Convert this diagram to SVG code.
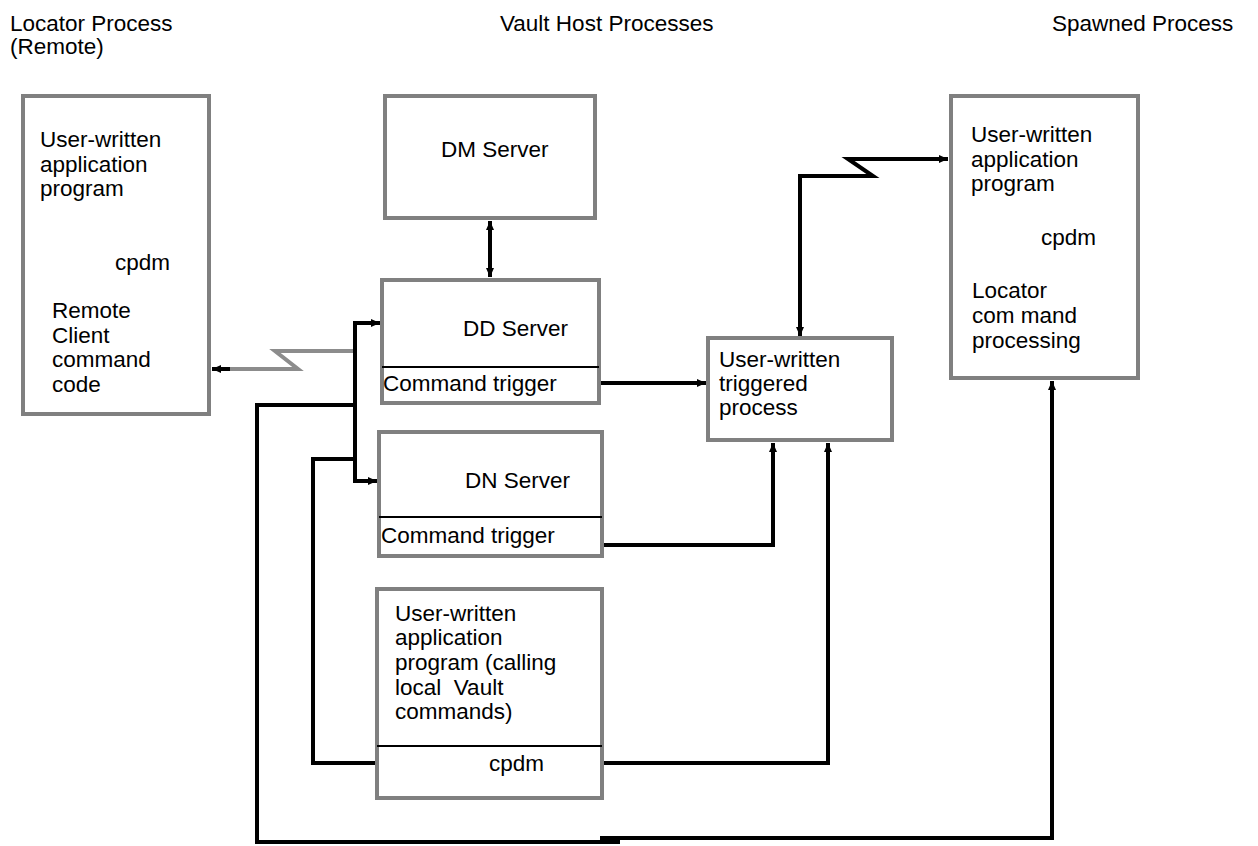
<svg xmlns="http://www.w3.org/2000/svg" width="1258" height="846" viewBox="0 0 1258 846">
<defs>
<style>
.box{fill:#fff;stroke:#808080;stroke-width:4}
.div{stroke:#000;stroke-width:2}
.t{font-family:"Liberation Sans",Arial,sans-serif;font-size:22.5px;fill:#000}
.c{fill:none;stroke:#000;stroke-width:4}
.g{fill:none;stroke:#8c8c8c;stroke-width:4}
</style>
<marker id="ah" markerUnits="userSpaceOnUse" markerWidth="10" markerHeight="8" refX="9" refY="4" orient="auto-start-reverse">
<path d="M0,0 L9,4 L0,8 z" fill="#000"/>
</marker>
</defs>
<rect width="1258" height="846" fill="#fff"/>
<g id="titles">
<text class="t" x="10" y="31">Locator Process</text>
<text class="t" x="10" y="54">(Remote)</text>
<text class="t" x="500" y="31">Vault Host Processes</text>
<text class="t" x="1052" y="31">Spawned Process</text>
</g>
<g id="connectors">
<line class="c" x1="490" y1="221" x2="490" y2="277" marker-start="url(#ah)" marker-end="url(#ah)"/>
<polyline class="g" points="355,351 275,351 298,369 222,369"/>
<line class="c" x1="230" y1="369" x2="212" y2="369" marker-end="url(#ah)"/>
<path class="c" d="M380,323 L355,323 L355,481 L377,481" marker-start="url(#ah)" marker-end="url(#ah)"/>
<path class="c" d="M355,405 L257,405 L257,842 L620,842"/>
<path class="c" d="M600,838 L1052,838 L1052,381" marker-end="url(#ah)"/>
<path class="c" d="M376,763 L313,763 L313,459 L355,459"/>
<path class="c" d="M602,763 L828,763 L828,443" marker-end="url(#ah)"/>
<path class="c" d="M602,545 L773,545 L773,443" marker-end="url(#ah)"/>
<path class="c" d="M599,383 L706,383" marker-end="url(#ah)"/>
<path class="c" d="M800,336 L800,176 L873,176 L848,159 L948,159" marker-start="url(#ah)" marker-end="url(#ah)"/>
</g>
<g id="locator">
<rect class="box" x="23" y="96" width="186" height="318"/>
<text class="t" x="40" y="147">User-written</text>
<text class="t" x="40" y="172">application</text>
<text class="t" x="40" y="196">program</text>
<text class="t" x="115" y="270">cpdm</text>
<text class="t" x="52" y="318">Remote</text>
<text class="t" x="52" y="343">Client</text>
<text class="t" x="52" y="367">command</text>
<text class="t" x="52" y="392">code</text>
</g>
<g id="dm">
<rect class="box" x="385" y="96" width="210" height="122"/>
<text class="t" x="441" y="157">DM Server</text>
</g>
<g id="dd">
<rect class="box" x="382" y="280" width="217" height="123"/>
<line class="div" x1="382" y1="367" x2="599" y2="367"/>
<text class="t" x="463" y="336">DD Server</text>
<text class="t" x="383" y="391">Command trigger</text>
</g>
<g id="dn">
<rect class="box" x="379" y="432" width="223" height="124"/>
<line class="div" x1="379" y1="517" x2="602" y2="517"/>
<text class="t" x="465" y="488">DN Server</text>
<text class="t" x="381" y="543">Command trigger</text>
</g>
<g id="local">
<rect class="box" x="377" y="589" width="225" height="209"/>
<line class="div" x1="377" y1="746" x2="602" y2="746"/>
<text class="t" x="395" y="621">User-written</text>
<text class="t" x="395" y="645">application</text>
<text class="t" x="395" y="670">program (calling</text>
<text class="t" x="395" y="695">local&#160; Vault</text>
<text class="t" x="395" y="719">commands)</text>
<text class="t" x="489" y="771">cpdm</text>
</g>
<g id="triggered">
<rect class="box" x="708" y="338" width="184" height="102"/>
<text class="t" x="719" y="367">User-written</text>
<text class="t" x="719" y="391">triggered</text>
<text class="t" x="719" y="415">process</text>
</g>
<g id="spawned">
<rect class="box" x="951" y="96" width="187" height="282"/>
<text class="t" x="971" y="142">User-written</text>
<text class="t" x="971" y="167">application</text>
<text class="t" x="971" y="191">program</text>
<text class="t" x="1041" y="245">cpdm</text>
<text class="t" x="972" y="298">Locator</text>
<text class="t" x="972" y="323">com mand</text>
<text class="t" x="972" y="348">processing</text>
</g>
</svg>
